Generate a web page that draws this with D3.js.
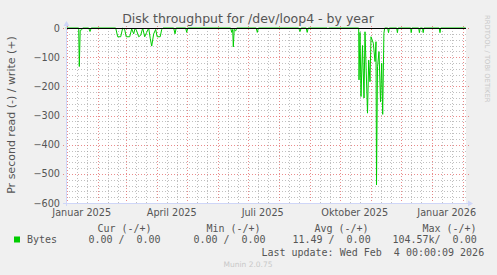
<!DOCTYPE html>
<html><head><meta charset="utf-8">
<script src="https://cdn.jsdelivr.net/npm/d3@7/dist/d3.min.js"></script>
<style>
html,body{margin:0;padding:0;background:#F0F0F0;}
svg{display:block;}
text{font-family:"DejaVu Sans",sans-serif;}
.mono{font-family:"DejaVu Sans Mono",monospace;white-space:pre;}
</style></head>
<body>
<script>
// ---- data ----
const title = "Disk throughput for /dev/loop4 - by year";
const yAxisTitle = "Pr second read (-) / write (+)";
const startDate = "2024-12-31", endDate = "2026-02-04";
const yTicks = [0, -100, -200, -300, -400, -500, -600];
const xLabels = ["Januar 2025", "April 2025", "Juli 2025", "Oktober 2025", "Januar 2026"];
const xLabelDates = ["2025-01-16", "2025-04-16", "2025-07-16", "2025-10-16", "2026-01-16"];
// day offsets from 2025-01-01 and read throughput (shown negative)
const dayOffsets = [-1, 12, 12.6, 13.5, 15, 16, 22, 23.3, 24.5,
  49, 51, 54, 56, 58, 59.5, 63, 65, 67, 68.5, 70, 72, 74, 76, 78, 80, 82, 83.5, 85, 87, 89, 90.5, 93.5, 95, 96.5,
  107, 108.3, 109.5, 119, 120, 121,
  164, 165, 166, 166.6, 167.5, 169, 170,
  189.5, 190.6, 191.7, 232, 233.3, 234.5, 239.5, 240.5, 241.5, 260.5, 261.3, 262,
  292, 292.3, 293.3, 294.3, 295.8, 297.3, 298.3, 300.8, 302, 303.3, 304.3, 306.6, 308.3, 309.3, 309.8, 310.8, 312.3, 313.8, 315, 316, 317.2, 318,
  321, 321.8, 322.6, 330, 330.7, 331.4, 344, 344.5, 345.2, 352, 352.7, 353.5, 355.8, 356.5, 357.2, 372.5, 373.3, 374, 399];
const readValues = [0, 0, 132, 8, 6, 0, 0, 12, 0,
  0, 30, 30, 0, 5, 30, 30, 3, 20, 0, 10, 30, 25, 0, 30, 15, 0, 35, 62, 20, 5, 30, 30, 5, 0,
  0, 20, 0, 0, 15, 0,
  0, 15, 5, 65, 5, 10, 0,
  0, 15, 0, 0, 12, 0, 0, 15, 0, 0, 3, 0,
  0, 178, 15, 235, 60, 240, 13, 292, 110, 184, 30, 52, 115, 47, 538, 133, 81, 253, 121, 296, 18, 0,
  0, 16, 0, 0, 16, 0, 0, 16, 0, 0, 16, 0, 0, 16, 0, 0, 16, 0, 0];
const legendHeaders = ["Cur (-/+)", "Min (-/+)", "Avg (-/+)", "Max (-/+)"];
const legendValues = ["0.00 /  0.00", "0.00 /  0.00", "11.49 /  0.00", "104.57k/  0.00"];
const seriesName = "Bytes";
const lastUpdate = "Last update: Wed Feb  4 00:00:09 2026";
const version = "Munin 2.0.75";

// ---- drawing ----
const W = 497, H = 275;
const L = 66, R = 466, T = 28, B = 203;
const svg = d3.select("body").append("svg").attr("width", W).attr("height", H);
svg.append("rect").attr("width", W).attr("height", H).attr("fill", "#F0F0F0");
svg.append("rect").attr("x", L).attr("y", T).attr("width", R - L).attr("height", B - T).attr("fill", "#FFFFFF");

const base = Date.UTC(2025, 0, 1);
const toDate = d => new Date(base + d * 86400000);
const x = d3.scaleUtc().domain([new Date(startDate), new Date(endDate)]).range([L - 0.3, R - 0.3]);
const y = d3.scaleLinear().domain([-600, 0]).range([B, T]);

const minorCol = "rgba(150,150,150,0.6)", majorCol = "rgba(222,79,79,0.65)", dash = "1,2";
const grid = svg.append("g").attr("shape-rendering", "crispEdges");
// minor horizontal
d3.range(-580, 0, 20).filter(v => v % 100 !== 0).forEach(v => {
  grid.append("line").attr("x1", L).attr("x2", R).attr("y1", Math.round(y(v)) + 0.5).attr("y2", Math.round(y(v)) + 0.5)
    .attr("stroke", minorCol).attr("stroke-dasharray", dash);
});
// minor vertical
const minorDays = d3.utcDay.range(new Date(startDate), new Date(endDate)).filter(d => d.getUTCDate() === 11 || d.getUTCDate() === 21);
minorDays.forEach(d => {
  const px = Math.round(x(d)) + 0.5;
  grid.append("line").attr("x1", px).attr("x2", px).attr("y1", T).attr("y2", B)
    .attr("stroke", minorCol).attr("stroke-dasharray", dash);
});
// major horizontal
yTicks.forEach(v => {
  const py = Math.round(y(v)) + 0.5;
  grid.append("line").attr("x1", L - 3).attr("x2", R + 3).attr("y1", py).attr("y2", py)
    .attr("stroke", majorCol).attr("stroke-dasharray", dash);
});
// major vertical (months)
d3.utcMonth.range(new Date(startDate), new Date(endDate)).forEach(d => {
  const px = Math.round(x(d)) + 0.5;
  if (px < L) return;
  grid.append("line").attr("x1", px).attr("x2", px).attr("y1", T - 2).attr("y2", B + 3)
    .attr("stroke", majorCol).attr("stroke-dasharray", dash);
});

// data line
const line = d3.line().x(d => x(toDate(d[0]))).y(d => y(-d[1]));
const pts = dayOffsets.map((d, i) => [d, readValues[i]]);
svg.append("path").attr("d", line(pts)).attr("fill", "none").attr("stroke", "#00CC00").attr("stroke-width", 1);
// zero line
svg.append("line").attr("x1", L).attr("x2", R).attr("y1", y(0) + 0.5).attr("y2", y(0) + 0.5).attr("stroke", "#000").attr("stroke-width", 1);

// axes
const axc = "#CFD6F8";
svg.append("line").attr("x1", L + 0.5).attr("x2", L + 0.5).attr("y1", B + 3).attr("y2", T - 4).attr("stroke", axc);
svg.append("line").attr("x1", L - 3).attr("x2", R + 4).attr("y1", B + 0.5).attr("y2", B + 0.5).attr("stroke", axc);
svg.append("path").attr("d", `M${L - 2.5},${T - 2} L${L + 3.5},${T - 2} L${L + 0.5},${T - 7} Z`).attr("fill", axc);
svg.append("path").attr("d", `M${R + 2},${B - 2.5} L${R + 2},${B + 3.5} L${R + 7},${B + 0.5} Z`).attr("fill", axc);

// y labels
yTicks.forEach(v => {
  svg.append("text").attr("x", 60).attr("y", y(v) + 3.6).attr("text-anchor", "end")
    .attr("font-size", "9.7px").attr("fill", "#555").text(d3.format("d")(v));
});
// x labels
xLabels.forEach((s, i) => {
  svg.append("text").attr("x", x(new Date(xLabelDates[i]))).attr("y", 215.5).attr("text-anchor", "middle")
    .attr("font-size", "9.7px").attr("fill", "#555").text(s);
});
// title
svg.append("text").attr("x", 248).attr("y", 23).attr("text-anchor", "middle").attr("font-size", "12.5px").attr("fill", "#555").text(title);
// y-axis title
svg.append("text").attr("transform", "translate(14.5,115) rotate(-90)").attr("text-anchor", "middle")
  .attr("font-size", "11px").attr("fill", "#555").text(yAxisTitle);
// watermark
svg.append("text").attr("transform", "translate(484.5,15) rotate(90)").attr("text-anchor", "start")
  .attr("font-size", "6.8px").attr("fill", "#C8C8C8").text("RRDTOOL / TOBI OETIKER");

// legend
svg.append("rect").attr("x", 14).attr("y", 236.5).attr("width", 6).attr("height", 6).attr("fill", "#00CC00");
const mono = (s, xx, yy) => svg.append("text").attr("class", "mono").attr("x", xx).attr("y", yy)
  .attr("font-size", "10px").attr("fill", "#555").attr("xml:space", "preserve").text(s);
mono(seriesName, 27, 243);
const hdrX = [98, 207, 315, 423];
const valX = [89, 194, 293, 393];
legendHeaders.forEach((h, i) => mono(h, hdrX[i] - 0.6, 231.5));
legendValues.forEach((v, i) => mono(v, valX[i] - 0.6, 243));
mono(lastUpdate, 262 - 0.6, 255.5);
svg.append("text").attr("x", 248).attr("y", 267).attr("text-anchor", "middle").attr("font-size", "7.5px").attr("fill", "#C8C8C8").text(version);
</script>
</body></html>
